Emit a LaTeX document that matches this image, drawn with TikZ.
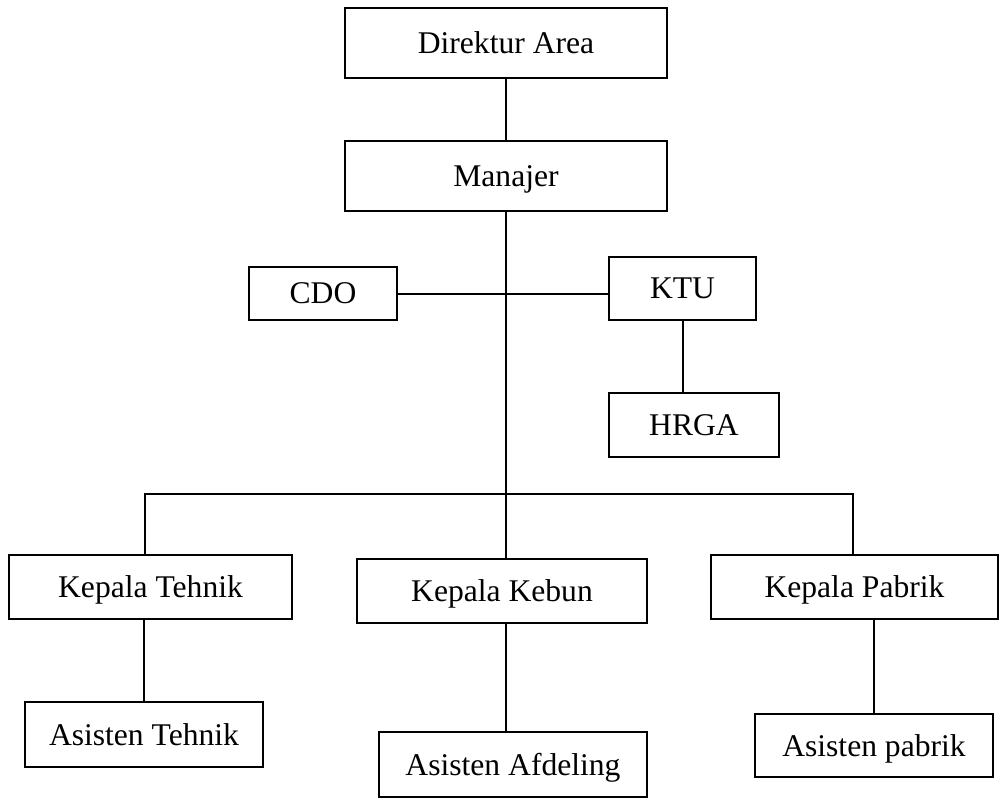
\documentclass[tikz,border=0pt]{standalone}
\usepackage{fontspec}
\setmainfont{Liberation Serif}
\begin{document}
\begin{tikzpicture}[x=1pt,y=-1pt,
  box/.style={draw=black, line width=2.4pt, fill=white, inner sep=0pt,
    font=\fontsize{31.6}{38}\selectfont, text depth=0pt},
  conn/.style={draw=black, line width=2pt}]
\useasboundingbox (0,0) rectangle (1001,803);
% boxes
\node[box, minimum width=322pt, minimum height=70pt] (dir) at (506,43) {Direktur Area};
\node[box, minimum width=322pt, minimum height=70pt] (man) at (506,176) {Manajer};
\node[box, minimum width=148pt, minimum height=53pt] (cdo) at (323,293.5) {CDO};
\node[box, minimum width=147pt, minimum height=63pt] (ktu) at (682.5,288.5) {KTU};
\node[box, minimum width=170pt, minimum height=64pt] (hrga) at (694,425) {HRGA};
\node[box, minimum width=283pt, minimum height=64pt] (kt) at (150.5,587) {Kepala Tehnik};
\node[box, minimum width=290pt, minimum height=64pt] (kk) at (502,591) {Kepala Kebun};
\node[box, minimum width=287pt, minimum height=64pt] (kp) at (854.5,587) {Kepala Pabrik};
\node[box, minimum width=238pt, minimum height=65pt] (at) at (144,734.5) {Asisten Tehnik};
\node[box, minimum width=268pt, minimum height=65pt] (aa) at (513,764.5) {Asisten Afdeling};
\node[box, minimum width=238pt, minimum height=63pt] (ap) at (874,745.5) {Asisten pabrik};
% bus coordinates
\coordinate (busL) at (145,494);
\coordinate (busR) at (853,494);
% connectors
\draw[conn] (dir.south) -- (man.north);
\draw[conn] (man.south) -- (man.south |- kk.north);
\draw[conn] (cdo.east) -- (cdo.east -| ktu.west);
\draw[conn] (ktu.south) -- (ktu.south |- hrga.north);
\draw[conn] (busL |- kt.north) -- (busL) -- (busR) -- (busR |- kp.north);
\draw[conn] (at.north |- kt.south) -- (at.north);
\draw[conn] (man.south |- kk.south) -- (man.south |- aa.north);
\draw[conn] (ap.north |- kp.south) -- (ap.north);
\end{tikzpicture}
\end{document}
